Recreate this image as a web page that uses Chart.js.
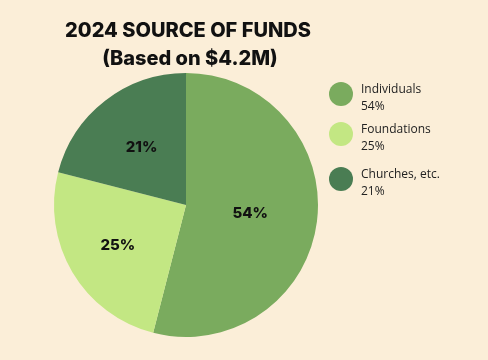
<!DOCTYPE html>
<html><head><meta charset="utf-8">
<script src="https://cdn.jsdelivr.net/npm/chart.js@4"></script>
<style>html,body{margin:0;padding:0;background:#fbeed8;}#wrap{width:488px;height:360px;position:relative;}</style>
</head><body><div id="wrap"><canvas id="c" width="488" height="360"></canvas></div>
<script>
const categories = ["Individuals", "Foundations", "Churches, etc."];
const values = [54, 25, 21];
const valueLabels = ["54%", "25%", "21%"];
const colors = ["#7aab5e", "#c3e783", "#4a7d53"];
const titleLines = ["2024 SOURCE OF FUNDS", "(Based on $4.2M)"];

const overlay = {
  id: 'overlay',
  afterDraw(chart) {
    const ctx = chart.ctx;
    ctx.save();
    // title
    ctx.fillStyle = '#111';
    ctx.textAlign = 'center';
    ctx.textBaseline = 'middle';
    ctx.font = '800 20px Inter, "Open Sans", sans-serif';
    ctx.fillText(titleLines[0], 188, 31);
    ctx.fillText(titleLines[1], 190, 59);
    // value labels
    const meta = chart.getDatasetMeta(0);
    const fr = [0.49, 0.6, 0.55];
    ctx.font = '800 15px Inter, "Open Sans", sans-serif';
    meta.data.forEach((arc, i) => {
      const p = arc.getProps(['x','y','startAngle','endAngle','outerRadius'], true);
      const mid = (p.startAngle + p.endAngle) / 2;
      const r = p.outerRadius * fr[i];
      ctx.fillText(valueLabels[i], p.x + Math.cos(mid) * r, p.y + Math.sin(mid) * r);
    });
    // legend
    const ys = [94, 134, 179];
    ctx.textAlign = 'left';
    categories.forEach((c, i) => {
      ctx.beginPath();
      ctx.arc(341, ys[i], 12, 0, Math.PI * 2);
      ctx.fillStyle = colors[i];
      ctx.fill();
      ctx.fillStyle = '#222';
      ctx.font = '12px "Open Sans", sans-serif';
      ctx.fillText(c, 361, ys[i] - 4);
      ctx.fillText(valueLabels[i], 361, ys[i] + 13);
    });
    ctx.restore();
  }
};

new Chart(document.getElementById('c'), {
  type: 'pie',
  data: { labels: categories, datasets: [{ data: values, backgroundColor: colors, borderWidth: 0 }] },
  options: {
    responsive: false,
    animation: false,
    layout: { padding: { left: 54, right: 170, top: 73, bottom: 23 } },
    plugins: { legend: { display: false }, tooltip: { enabled: false }, title: { display: false } }
  },
  plugins: [overlay]
});
</script></body></html>
